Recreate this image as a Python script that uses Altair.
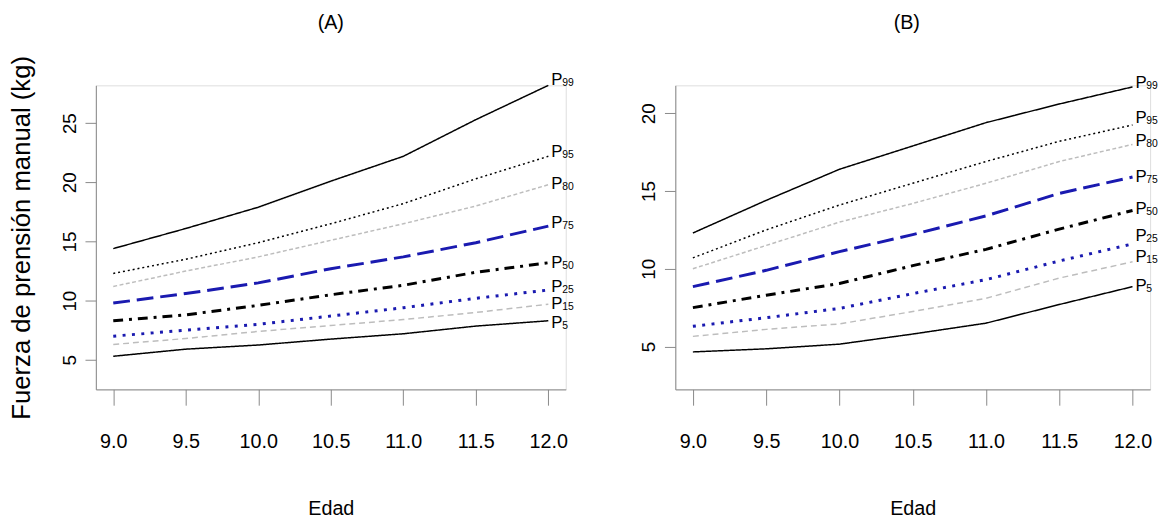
import altair as alt
import pandas as pd

# ---------------- data ----------------
ages = [9.0, 9.5, 10.0, 10.5, 11.0, 11.5, 12.0]
x_ticks = [9.0, 9.5, 10.0, 10.5, 11.0, 11.5, 12.0]
series = ["P99", "P95", "P80", "P75", "P50", "P25", "P15", "P5"]
sub_labels = ["99", "95", "80", "75", "50", "25", "15", "5"]

# Panel (A)
p99_a = [14.4, 16.1, 17.9, 20.1, 22.2, 25.3, 28.2]
p95_a = [12.3, 13.5, 14.9, 16.5, 18.2, 20.3, 22.2]
p80_a = [11.2, 12.5, 13.7, 15.1, 16.5, 18.0, 19.8]
p75_a = [9.8, 10.6, 11.5, 12.7, 13.7, 14.9, 16.3]
p50_a = [8.3, 8.8, 9.6, 10.5, 11.3, 12.4, 13.2]
p25_a = [7.0, 7.5, 8.0, 8.7, 9.4, 10.2, 10.9]
p15_a = [6.3, 6.8, 7.4, 7.9, 8.4, 9.0, 9.7]
p5_a = [5.3, 5.9, 6.25, 6.75, 7.2, 7.85, 8.3]

# Panel (B)
p99_b = [12.3, 14.4, 16.4, 17.9, 19.4, 20.6, 21.7]
p95_b = [10.7, 12.5, 14.1, 15.5, 16.9, 18.2, 19.25]
p80_b = [10.0, 11.5, 13.0, 14.2, 15.5, 16.9, 18.0]
p75_b = [8.85, 9.9, 11.1, 12.2, 13.4, 14.85, 15.9]
p50_b = [7.5, 8.3, 9.05, 10.2, 11.25, 12.55, 13.75]
p25_b = [6.3, 6.85, 7.45, 8.4, 9.3, 10.5, 11.6]
p15_b = [5.65, 6.1, 6.45, 7.25, 8.1, 9.4, 10.45]
p5_b = [4.65, 4.85, 5.15, 5.8, 6.5, 7.7, 8.85]

y_ticks_a = [5, 10, 15, 20, 25]
y_ticks_b = [5, 10, 15, 20]

vals_a = [p99_a, p95_a, p80_a, p75_a, p50_a, p25_a, p15_a, p5_a]
vals_b = [p99_b, p95_b, p80_b, p75_b, p50_b, p25_b, p15_b, p5_b]

# ---------------- styles ----------------
BLUE = "#1a1ab0"
GREY = "#bdbdbd"
styles = {
    "P99": dict(color="black", dash=[1, 0], width=1.5),
    "P95": dict(color="black", dash=[2, 3], width=1.5),
    "P80": dict(color=GREY, dash=[4, 2.5], width=1.5),
    "P75": dict(color=BLUE, dash=[17, 7], width=3),
    "P50": dict(color="black", dash=[10, 6, 3, 6], width=3),
    "P25": dict(color=BLUE, dash=[3, 6.5], width=3),
    "P15": dict(color=GREY, dash=[6, 4], width=1.5),
    "P5": dict(color="black", dash=[1, 0], width=1.5),
}
# pixel nudges of the end labels (text placement only)
nudge_a = {"P99": -5, "P95": -4, "P80": -1, "P75": -3, "P50": 0, "P25": -3, "P15": 0, "P5": 2}
nudge_b = {"P99": -4, "P95": -7, "P80": -3, "P75": 0, "P50": -1, "P25": -8, "P15": -5, "P5": -1}

FONT = "Liberation Sans, Arial, Helvetica, sans-serif"
PLOT_H = 308


def make_df(vals):
    rows = []
    for name, arr in zip(series, vals):
        for a, v in zip(ages, arr):
            rows.append({"Edad": a, "valor": v, "serie": name})
    return pd.DataFrame(rows)


def make_lab(vals):
    return pd.DataFrame({
        "Edad": [ages[-1]] * len(series),
        "valor": [arr[-1] for arr in vals],
        "serie": series,
        "sub": sub_labels,
    })


def panel(vals, ydom, yvals, title, ytitle, width, nudge, title_dx):
    df = make_df(vals)
    lab = make_lab(vals)
    x = alt.X("Edad:Q",
              scale=alt.Scale(domain=[8.88, 12.12], nice=False, zero=False),
              axis=alt.Axis(values=x_ticks, format=".1f", title="Edad",
                            grid=False, tickSize=16, labelPadding=27,
                            labelFont=FONT, labelFontSize=20,
                            titleFont=FONT, titleFontSize=20,
                            titleFontWeight="normal", titlePadding=48,
                            labelFlush=False))
    yax = dict(values=yvals, grid=False, tickSize=11, labelAngle=270,
               labelPadding=6, labelFont=FONT, labelFontSize=19,
               titleFont=FONT, titleFontSize=26, titleFontWeight="normal",
               titlePadding=26, labelFlush=False)
    y = alt.Y("valor:Q",
              scale=alt.Scale(domain=ydom, nice=False, zero=False),
              axis=alt.Axis(**yax), title=ytitle if ytitle else None)
    layers = []
    for name in series:
        s = styles[name]
        layers.append(
            alt.Chart(df).transform_filter(alt.datum.serie == name)
            .mark_line(color=s["color"], strokeDash=s["dash"],
                       strokeWidth=s["width"], strokeCap="butt")
            .encode(x=x, y=y)
        )
    for name in series:
        d = nudge[name]
        layers.append(
            alt.Chart(lab).transform_filter(alt.datum.serie == name)
            .mark_text(align="left", baseline="middle", dx=3, dy=d,
                       font=FONT, fontSize=17, color="black")
            .encode(x=x, y=y, text=alt.value("P"))
        )
        layers.append(
            alt.Chart(lab).transform_filter(alt.datum.serie == name)
            .mark_text(align="left", baseline="middle", dx=14, dy=d + 3,
                       font=FONT, fontSize=10.5, color="black")
            .encode(x=x, y=y, text="sub:N")
        )
    # panel title "(A)" / "(B)" above the plot
    layers.append(
        alt.Chart(pd.DataFrame({"t": [title]}))
        .mark_text(align="center", baseline="middle", font=FONT,
                   fontSize=20, color="black")
        .encode(x=alt.value(width / 2 + title_dx), y=alt.value(-63),
                text="t:N")
    )
    return alt.layer(*layers).properties(width=width, height=PLOT_H)


pa = panel(vals_a, [2.5, 28.2], y_ticks_a, "(A)",
           "Fuerza de prensión manual (kg)", 476, nudge_a, 0)
pb = panel(vals_b, [2.24, 21.8], y_ticks_b, "(B)", None, 481, nudge_b, -6)

chart = alt.hconcat(pa, pb, spacing=111, bounds="flush").properties(
    padding={"left": 0, "top": 1, "right": 0, "bottom": 0}
).configure_view(strokeWidth=0).configure_axis(
    domainColor="black", tickColor="black", labelColor="black",
    titleColor="black", grid=False, domainWidth=1, tickWidth=1
).configure(background="white")

chart.save("out.html", embed_options={"renderer": "svg", "actions": False})
